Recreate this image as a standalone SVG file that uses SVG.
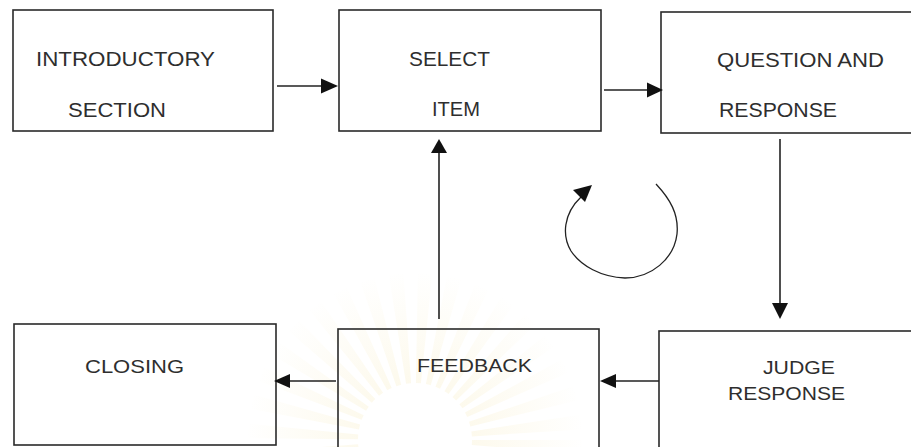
<svg xmlns="http://www.w3.org/2000/svg" width="911" height="447" viewBox="0 0 911 447">
  <style>
    .box { fill: none; stroke: #2a2a2a; stroke-width: 1.6; }
    .lbl, .lbl2 { font-family: "Liberation Sans", Arial, sans-serif; fill: #2e2e2e; }
    .lbl { font-size: 20.5px; }
    .lbl2 { font-size: 18px; }
    .edge { fill: none; stroke: #222; stroke-width: 1.6; }
    .head { fill: #111; }
    .loop { fill: none; stroke: #222; stroke-width: 1.3; }
  </style>
  <defs>
    <radialGradient id="sun" gradientUnits="userSpaceOnUse" cx="415" cy="440" r="170">
      <stop offset="0.35" stop-color="#f4e4a6" stop-opacity="0.2"/>
      <stop offset="1" stop-color="#f4e4a6" stop-opacity="0"/>
    </radialGradient>
  </defs>
  <rect width="911" height="447" fill="#ffffff"/>

  <!-- faint background emblem -->
  <g id="emblem">
    <circle cx="415" cy="440" r="112" fill="none" stroke="url(#sun)" stroke-width="110" stroke-dasharray="9.8 9.8"/>
  </g>

  <g id="introductory">
    <rect class="box" x="13" y="10" width="260" height="121"/>
    <text class="lbl" x="36" y="66" textLength="179" lengthAdjust="spacingAndGlyphs">INTRODUCTORY</text>
    <text class="lbl" x="68" y="117" textLength="98" lengthAdjust="spacingAndGlyphs">SECTION</text>
  </g>

  <g id="select-item">
    <rect class="box" x="339" y="10" width="262" height="121"/>
    <text class="lbl" x="409" y="66" textLength="81" lengthAdjust="spacingAndGlyphs">SELECT</text>
    <text class="lbl" x="432" y="116" textLength="48" lengthAdjust="spacingAndGlyphs">ITEM</text>
  </g>

  <g id="question-response">
    <rect class="box" x="661" y="12" width="262" height="121"/>
    <text class="lbl" x="717" y="67" textLength="167" lengthAdjust="spacingAndGlyphs">QUESTION AND</text>
    <text class="lbl" x="719" y="117" textLength="118" lengthAdjust="spacingAndGlyphs">RESPONSE</text>
  </g>

  <g id="judge-response">
    <rect class="box" x="659" y="331" width="262" height="130"/>
    <text class="lbl2" x="763" y="374" textLength="72" lengthAdjust="spacingAndGlyphs">JUDGE</text>
    <text class="lbl2" x="728" y="400" textLength="117" lengthAdjust="spacingAndGlyphs">RESPONSE</text>
  </g>

  <g id="feedback">
    <rect class="box" x="338" y="329" width="261" height="130"/>
    <text class="lbl2" x="417" y="372" textLength="115" lengthAdjust="spacingAndGlyphs">FEEDBACK</text>
  </g>

  <g id="closing">
    <rect class="box" x="14" y="324" width="262" height="121"/>
    <text class="lbl2" x="85" y="373" textLength="99" lengthAdjust="spacingAndGlyphs">CLOSING</text>
  </g>

  <g id="connectors">
    <!-- introductory -> select item -->
    <line class="edge" x1="277" y1="86" x2="324" y2="86"/>
    <polygon class="head" points="338,86 321,78.5 321,93.5"/>
    <!-- select item -> question and response -->
    <line class="edge" x1="604" y1="90" x2="649" y2="90"/>
    <polygon class="head" points="663,90 647,82.5 647,97.5"/>
    <!-- question and response -> judge response -->
    <line class="edge" x1="780" y1="139" x2="780" y2="305"/>
    <polygon class="head" points="780,319 772,303 788,303"/>
    <!-- judge response -> feedback -->
    <line class="edge" x1="659" y1="381" x2="614" y2="381"/>
    <polygon class="head" points="600,381 616,374 616,388"/>
    <!-- feedback -> closing -->
    <line class="edge" x1="336" y1="381" x2="288" y2="381"/>
    <polygon class="head" points="274,381 290,374 290,388"/>
    <!-- feedback -> select item -->
    <line class="edge" x1="439" y1="319" x2="439" y2="151"/>
    <polygon class="head" points="439,139 431,153 447,153"/>
    <!-- cycle mark -->
    <path class="loop" d="M656,184 C670,199 679,214 677,234 C674,259 651,278 625,278 C601,277 581,266 571,251 C562,236 563,214 581,197"/>
    <polygon class="head" points="573,190 592,185 585,202"/>
  </g>
</svg>
